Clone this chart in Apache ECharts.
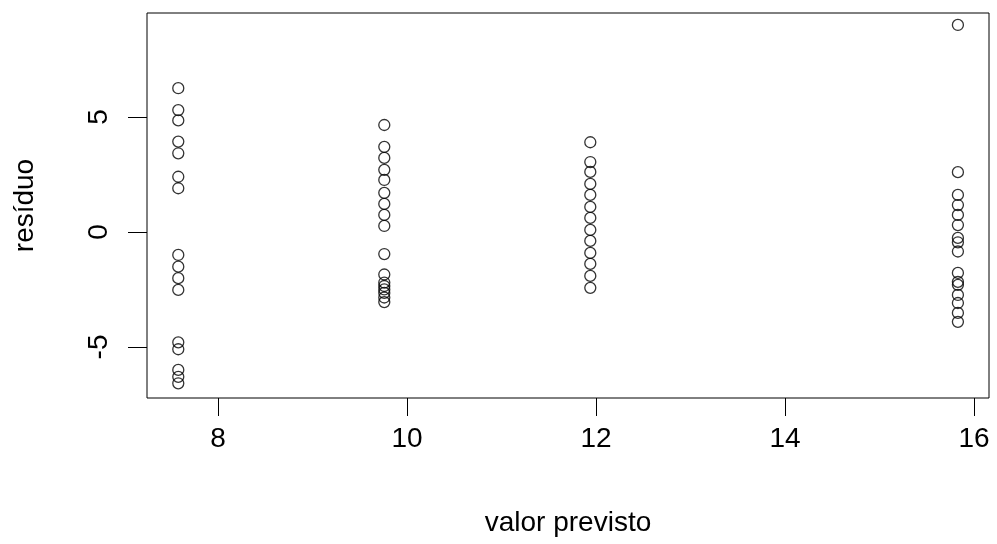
<!DOCTYPE html>
<html>
<head>
<meta charset="utf-8">
<script src="https://cdn.jsdelivr.net/npm/echarts@6/dist/echarts.min.js"></script>
<style>html,body{margin:0;padding:0;background:#fff;}#c{width:997px;height:544px;}</style>
</head>
<body>
<div id="c"></div>
<script>
const xTicks = [8, 10, 12, 14, 16];
const yTicks = [-5, 0, 5];
const xName = 'valor previsto';
const yName = 'resíduo';

const groupX = [7.58, 9.76, 11.94, 15.83];
const resid1 = [6.25, 5.30, 4.85, 3.93, 3.42, 2.40, 1.90, -1.00, -1.51, -2.01, -2.52, -4.80, -5.10, -6.00, -6.30, -6.58];
const resid2 = [4.65, 3.70, 3.22, 2.70, 2.26, 1.70, 1.22, 0.74, 0.26, -0.96, -1.85, -2.20, -2.35, -2.50, -2.65, -2.85, -3.05];
const resid3 = [3.90, 3.04, 2.61, 2.09, 1.61, 1.09, 0.61, 0.09, -0.39, -0.91, -1.39, -1.91, -2.43];
const resid4 = [9.00, 2.60, 1.61, 1.17, 0.74, 0.30, -0.26, -0.45, -0.85, -1.78, -2.17, -2.30, -2.74, -3.09, -3.52, -3.91];

const groups = [resid1, resid2, resid3, resid4];
const points = [];
groups.forEach((g, i) => g.forEach(v => points.push([groupX[i], v])));

const font = '"Liberation Sans", Arial, sans-serif';
const chart = echarts.init(document.getElementById('c'), null, {renderer: 'canvas'});
chart.setOption({
  animation: false,
  backgroundColor: '#fff',
  grid: {left: 147, top: 13, right: 8, bottom: 146, show: true, borderColor: '#000', borderWidth: 1, backgroundColor: 'transparent'},
  xAxis: {
    type: 'value', min: 7.249, max: 16.159,
    name: xName, nameLocation: 'middle', nameGap: 111,
    nameTextStyle: {fontFamily: font, fontSize: 28, color: '#000'},
    axisLine: {show: false, onZero: false},
    splitLine: {show: false},
    axisTick: {show: true, inside: false, length: 18, lineStyle: {color: '#000', width: 1}, customValues: xTicks},
    axisLabel: {fontFamily: font, fontSize: 28, color: '#000', margin: 27, customValues: xTicks, showMinLabel: true, showMaxLabel: true}
  },
  yAxis: {
    type: 'value', min: -7.22, max: 9.52,
    name: yName, nameLocation: 'middle', nameGap: 108, nameRotate: 90,
    nameTextStyle: {fontFamily: font, fontSize: 28, color: '#000'},
    axisLine: {show: false, onZero: false},
    splitLine: {show: false},
    axisTick: {show: true, inside: false, length: 19, lineStyle: {color: '#000', width: 1}, customValues: yTicks},
    axisLabel: {fontFamily: font, fontSize: 28, color: '#000', margin: 34, rotate: 90, customValues: yTicks}
  },
  series: [{
    type: 'scatter',
    data: points,
    symbol: 'circle',
    symbolSize: 11,
    itemStyle: {color: 'rgba(0,0,0,0)', borderColor: '#000', borderWidth: 1.3},
    emphasis: {disabled: true}
  }]
});
</script>
</body>
</html>
